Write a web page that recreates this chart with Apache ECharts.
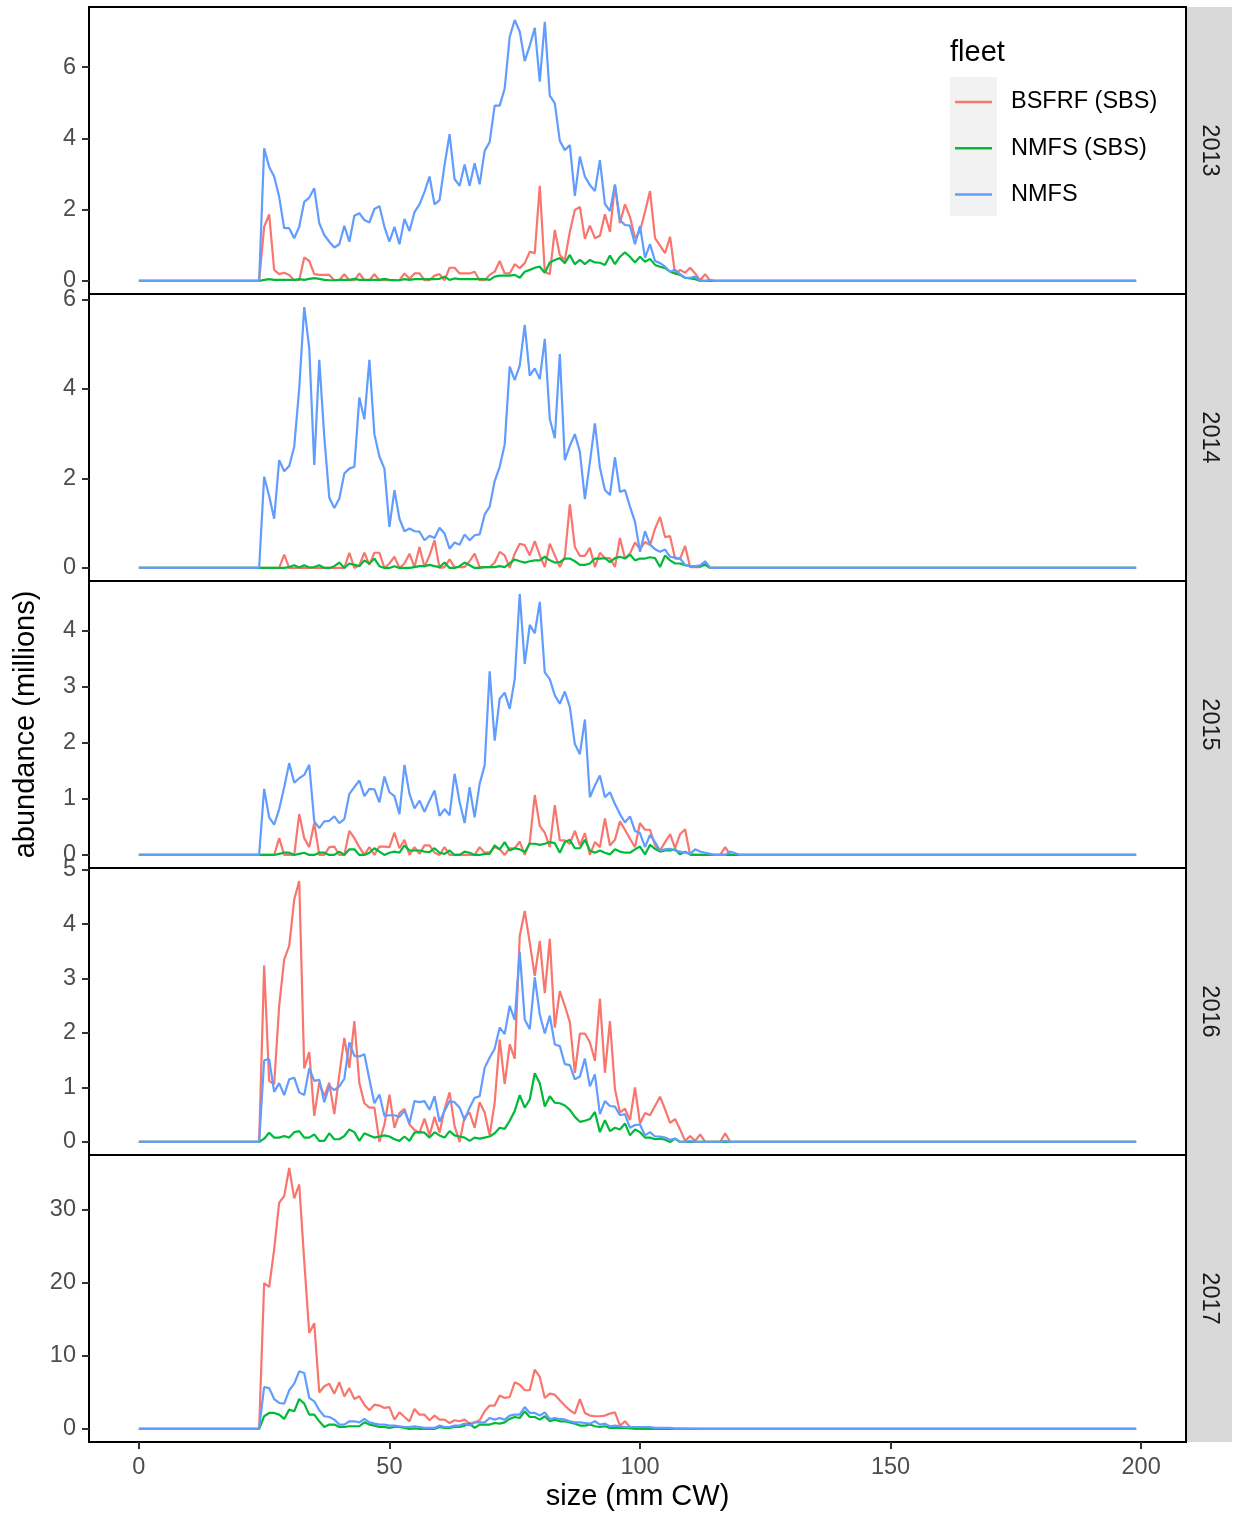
<!DOCTYPE html>
<html>
<head>
<meta charset="utf-8">
<script src="https://cdn.jsdelivr.net/npm/echarts@6/dist/echarts.min.js"></script>
<style>
html,body{margin:0;padding:0;background:#fff;}
#chart{width:1236px;height:1515px;}
</style>
</head>
<body>
<div id="chart"></div>
<script>
// ---------------- DATA ----------------
const YEARS = ['2013', '2014', '2015', '2016', '2017'];
const FLEETS = ['BSFRF (SBS)', 'NMFS (SBS)', 'NMFS'];
const SIZE_COUNT = 200;          // size bins 0..199 mm CW
const START = 24;                // first listed bin in each array below (earlier bins are 0)
const X_TICKS = [0, 50, 100, 150, 200];
const Y_TICKS = {
  '2013': [0, 2, 4, 6],
  '2014': [0, 2, 4, 6],
  '2015': [0, 1, 2, 3, 4],
  '2016': [0, 1, 2, 3, 4, 5],
  '2017': [0, 10, 20, 30]
};

const bsfrf2013 = [0,1.52,1.87,0.31,0.19,0.23,0.17,0.02,0.02,0.66, 0.56,0.19,0.17,0.17,0.17,0.02,0.02,0.19,0.02,0.02, 0.21,0.02,0.02,0.19,0.02,0.02,0.02,0.02,0.02,0.21, 0.06,0.21,0.21,0.02,0.02,0.15,0.19,0.02,0.37,0.37, 0.21,0.21,0.21,0.26,0.02,0.02, 0.17,0.26,0.56,0.21,0.21,0.47,0.36,0.5,0.82,0.78, 2.67,0.26,0.19,1.43,0.73,0.59,1.38,1.99,2.08,1.18, 1.55,1.2,1.27,1.87,1.38,2.69,1.62,2.15,1.8,1.2, 1.4,1.94,2.52,1.2,0.99,0.78,1.24,0.19,0.31,0.23, 0.37,0.21,0.02,0.19,0];
const nmfsSbs2013 = [0,0.03,0.05,0.03,0.03,0.03,0.03,0.03,0.05,0.03, 0.06,0.08,0.06,0.03,0.02,0.02,0.03,0.03,0.03,0.06, 0.03,0.03,0.03,0.03,0.03,0.06,0.03,0.02,0.02,0.05, 0.03,0.05,0.05,0.05,0.05,0.05,0.06,0.12,0.03,0.07, 0.05,0.05,0.05,0.05,0.05,0.05, 0.03,0.12,0.15,0.15,0.15,0.17,0.09,0.26,0.31,0.37, 0.4,0.23,0.52,0.59,0.64,0.5,0.73,0.47,0.59,0.47, 0.59,0.52,0.51,0.45,0.71,0.47,0.68,0.8,0.68,0.52, 0.68,0.54,0.62,0.45,0.4,0.36,0.26,0.21,0.17,0.09, 0.07,0.05,0,0,0];
const nmfs2013 = [0,3.72,3.2,2.93,2.36,1.48,1.48,1.2,1.52,2.22, 2.34,2.6,1.62,1.29,1.1,0.94,1.03,1.55,1.1,1.83, 1.9,1.71,1.64,2.02,2.1,1.52,1.1,1.52,1.03,1.74, 1.4,1.93,2.15,2.5,2.93,2.15,2.27,3.25,4.12,2.86, 2.67,3.27,2.67,3.3,2.71,3.65, 3.9,4.92,4.92,5.4,6.85,7.32,7.0,6.17,6.6,7.1, 5.59,7.27,5.2,4.98,3.93,3.67,3.81,2.39,3.49,2.93, 2.69,2.52,3.39,2.16,1.96,2.71,1.71,1.57,1.55,1.03, 1.54,0.65,1.03,0.56,0.5,0.4,0.26,0.31,0.19,0.09, 0.09,0.12,0,0,0.03];

const bsfrf2014 = [0,0,0,0,0,0.3,0,0,0,0, 0,0,0,0,0,0,0,0,0.34,0, 0.06,0.34,0.07,0.34,0.34,0,0.1,0.25,0,0.1, 0.32,0.02,0.47,0.02,0.28,0.62,0,0.02,0.19,0.02, 0.02,0.02,0.15,0.32,0.02,0.02, 0.02,0.12,0.36,0.28,0,0.32,0.54,0.51,0.28,0.6, 0.28,0.02,0.54,0.28,0.02,0.25,1.42,0.47,0.27,0.27, 0.45,0.02,0.34,0.22,0.22,0.02,0.67,0.21,0.32,0.57, 0.42,0.58,0.51,0.88,1.14,0.69,0.71,0.21,0.21,0.49, 0.02,0.02,0.02,0.12,0];
const nmfsSbs2014 = [0,0,0,0,0,0,0.02,0.06,0.01,0.06, 0.01,0.02,0.06,0,0,0.04,0.12,0,0.1,0.07, 0.04,0.17,0.1,0.21,0.04,0,0,0.04,0,0, 0,0.02,0.04,0.04,0.07,0.04,0.02,0.12,0,0, 0.04,0.12,0.06,0,0,0.02, 0.02,0.02,0.04,0.02,0.1,0.19,0.15,0.12,0.15,0.17, 0.17,0.25,0.17,0.12,0.13,0.21,0.21,0.15,0.07,0.07, 0.1,0.21,0.21,0.22,0.13,0.22,0.25,0.21,0.3,0.17, 0.21,0.21,0.24,0.22,0.02,0.28,0.17,0.1,0.1,0.06, 0.04,0.04,0.04,0.07,0];
const nmfs2014 = [0,2.04,1.61,1.1,2.41,2.16,2.28,2.71,4.01,5.83, 4.91,2.3,4.65,2.93,1.57,1.34,1.55,2.11,2.22,2.26, 3.81,3.32,4.65,2.99,2.49,2.22,0.92,1.74,1.1,0.82, 0.88,0.82,0.81,0.62,0.72,0.67,0.9,0.77,0.43,0.57, 0.52,0.75,0.62,0.73,0.75,1.19, 1.37,1.94,2.26,2.76,4.5,4.2,4.52,5.43,4.3,4.46, 4.22,5.12,3.33,2.9,4.78,2.41,2.73,2.99,2.6,1.54, 2.36,3.23,2.24,1.74,1.63,2.47,1.7,1.74,1.37,1.03, 0.36,0.82,0.52,0.42,0.36,0.41,0.25,0.23,0.21,0.07, 0.04,0.04,0.06,0.15,0];

const bsfrf2015 = [0,0,0,0,0.3,0,0,0,0.73,0.3, 0.14,0.57,0,0,0.14,0.15,0,0,0.43,0.3, 0.14,0,0.14,0,0.15,0.15,0.14,0.4,0.12,0.27, 0,0.14,0.02,0.17,0.17,0.04,0,0.14,0,0, 0,0,0,0,0.14,0.04, 0.05,0.14,0.1,0,0.12,0.12,0.24,0,0.23,1.07, 0.52,0.4,0.14,0.89,0.26,0.26,0.2,0.43,0.17,0.39, 0,0.23,0.14,0.65,0.17,0.27,0.6,0.45,0.29,0.14, 0.57,0.45,0.45,0.17,0.08,0.23,0.37,0.12,0.37,0.46, 0,0,0,0,0,0,0,0.14,0,0];
const nmfsSbs2015 = [0,0,0,0,0.02,0.04,0.04,0,0.02,0.04, 0,0,0.04,0.04,0,0,0.06,0,0.1,0.1, 0,0,0.04,0.12,0.06,0,0.04,0.06,0.04,0.17, 0.08,0.08,0.08,0.06,0.05,0.12,0.04,0.02,0.08,0, 0,0.06,0.04,0,0,0.02, 0.02,0.17,0.1,0.23,0.08,0.12,0.1,0.05,0.2,0.2, 0.18,0.2,0.23,0.21,0.04,0.23,0.27,0.12,0.12,0.27, 0.08,0.04,0.08,0.04,0.01,0.1,0.06,0.04,0.04,0.1, 0.15,0.01,0.18,0.11,0.06,0.08,0.08,0.1,0.01,0.06, 0.01,0,0,0,0,0,0,0,0,0];
const nmfs2015 = [0,1.18,0.67,0.54,0.82,1.21,1.64,1.29,1.37,1.43, 1.61,0.6,0.48,0.6,0.61,0.69,0.57,0.64,1.09,1.21, 1.33,1.05,1.18,1.17,0.94,1.4,1.12,1.05,0.73,1.61, 1.09,0.83,0.97,0.77,0.97,1.15,0.7,0.82,0.71,1.45, 0.95,0.57,1.21,0.67,1.27,1.6, 3.28,2.04,2.79,2.9,2.61,3.14,4.66,3.41,4.11,3.96, 4.52,3.26,3.14,2.85,2.7,2.92,2.64,1.98,1.8,2.42, 1.03,1.24,1.42,1.03,1.12,0.91,0.73,0.58,0.69,0.43, 0.39,0.14,0.36,0.23,0.08,0.1,0.11,0.08,0.06,0.04, 0.02,0.1,0.06,0.04,0.02,0,0,0,0.06,0.03];

const bsfrf2016 = [0,3.24,1.12,1.06,2.5,3.35,3.6,4.45,4.79,1.35, 1.65,0.48,1.09,0.84,1.09,0.51,1.24,1.91,1.36,2.22, 1.08,0.71,0.63,0.63,0,0.32,0.87,0.26,0.53,0.61, 0.32,0.22,0.17,0.43,0.12,0.46,0.17,0.6,0.91,0.29, 0,0.46,0.54,0.26,0.73,0.54, 0.12,0.72,1.88,1.06,1.79,1.53,3.78,4.24,3.66,3.05, 3.69,2.73,3.73,2.1,2.77,2.5,2.2,1.27,1.99,1.99, 1.83,1.49,2.63,1.27,2.22,0.97,0.54,0.61,0.4,1.0, 0.34,0.53,0.49,0.66,0.83,0.6,0.35,0.42,0.23,0.02, 0.11,0.02,0.14,0,0,0,0,0.16,0];
const nmfsSbs2016 = [0,0.06,0.17,0.08,0.08,0.11,0.08,0.18,0.2,0.08, 0.08,0.14,0.02,0.02,0.16,0.05,0.05,0.11,0.23,0.18, 0.02,0.16,0.12,0.08,0.1,0.12,0.1,0.05,0.02,0.1, 0.02,0.17,0.18,0.17,0.08,0.18,0.12,0.08,0.2,0.12, 0.1,0.08,0.02,0.08,0.06,0.08, 0.1,0.16,0.26,0.24,0.39,0.57,0.86,0.63,0.78,1.26, 1.08,0.65,0.84,0.72,0.71,0.67,0.59,0.46,0.37,0.39, 0.42,0.55,0.18,0.4,0.2,0.26,0.23,0.34,0.12,0.23, 0.18,0.08,0.08,0.05,0.06,0.04,0,0.06,0,0, 0,0,0,0,0,0,0,0,0];
const nmfs2016 = [0,1.5,1.52,0.92,1.08,0.86,1.15,1.18,0.91,0.86, 1.35,1.12,1.14,0.73,1.03,0.95,1.02,1.16,1.83,1.58, 1.57,1.61,1.15,0.71,0.87,0.48,0.49,0.49,0.46,0.57, 0.34,0.75,0.73,0.75,0.59,0.84,0.37,0.57,0.75,0.73, 0.63,0.4,0.63,0.81,0.84,1.36, 1.55,1.71,2.1,1.98,2.5,2.24,3.49,2.25,2.07,3.02, 2.34,1.99,2.32,1.79,1.76,1.43,1.41,1.15,1.2,1.53, 1.02,1.24,0.51,0.75,0.66,0.65,0.49,0.51,0.26,0.31, 0.32,0.12,0.18,0.1,0.1,0.08,0.04,0.06,0,0, 0.02,0,0,0,0,0,0,0.02,0];

const bsfrf2017 = [0,20.0,19.45,24.6,31.0,31.9,35.75,31.6,33.5,23.0, 13.15,14.5,5.0,5.85,6.2,4.84,6.4,4.47,5.6,4.1, 4.47,3.33,2.56,3.33,3.2,2.88,3.0,1.28,2.28,1.64, 1.05,2.74,1.96,1.96,1.19,1.83,1.28,1.28,0.82,1.19, 1.05,1.28,0.73,0.91,1.19,2.42, 3.2,3.2,4.57,4.25,4.38,6.4,6.07,5.3,5.3,8.13, 7.12,4.25,4.84,4.7,3.93,3.2,2.56,2.1,4.1,2.19, 1.83,1.74,1.74,1.83,2.1,2.28,0.46,1.05,0.27,0, 0,0,0,0,0,0,0.1,0,0,0];
const nmfsSbs2017 = [0,1.74,2.19,2.19,1.96,1.37,2.65,2.42,4.1,3.47, 1.96,1.96,1.05,0.27,0.6,0.6,0.27,0.27,0.37,0.37, 0.37,0.91,0.6,0.46,0.27,0.27,0.14,0.27,0.27,0.14, 0,0.09,0,0,0,0,0.27,0.14,0.14,0.27, 0.27,0.46,0.73,0.14,0.6,0.6, 0.6,0.82,0.73,0.91,1.37,1.64,1.5,2.42,1.64,1.64, 1.28,1.74,1.05,1.28,1.05,1.05,0.91,0.73,0.46,0.46, 0.6,0.37,0.27,0.37,0.14,0.14,0.14,0.14,0.09,0.05, 0.05,0.05,0.02,0.02,0.02,0,0,0,0,0];
const nmfs2017 = [0,5.75,5.6,4.1,3.56,3.47,5.3,6.2,7.9,7.67, 4.25,3.79,2.56,1.74,1.64,1.28,0.6,0.6,1.05,1.05, 0.91,1.37,0.91,0.73,0.6,0.6,0.46,0.46,0.37,0.27, 0.27,0.37,0.27,0.14,0.14,0.14,0.46,0.27,0.27,0.46, 0.46,0.73,0.46,0.91,0.91,0.91, 1.5,1.28,1.5,1.28,1.83,1.96,1.96,3.0,2.19,2.19, 1.83,2.28,1.37,1.5,1.37,1.28,1.05,0.91,0.91,0.82, 0.73,1.05,0.6,0.73,0.37,0.46,0.37,0.27,0.27,0.27, 0.27,0.27,0.27,0.14,0.14,0.14,0.14,0.05,0.05,0.05, 0.03,0.03,0.02,0.02,0.02,0.01,0.01];

const PANEL_DATA = {
  '2013': [bsfrf2013, nmfsSbs2013, nmfs2013],
  '2014': [bsfrf2014, nmfsSbs2014, nmfs2014],
  '2015': [bsfrf2015, nmfsSbs2015, nmfs2015],
  '2016': [bsfrf2016, nmfsSbs2016, nmfs2016],
  '2017': [bsfrf2017, nmfsSbs2017, nmfs2017]
};

// ---------------- STYLE / LAYOUT ----------------
const COLORS = ['#F8766D', '#00BA38', '#619CFF'];
const FONT = '"Liberation Sans", Arial, Helvetica, sans-serif';
const PLOT_LEFT = 89, PLOT_W = 1097, PANEL_TOP = 7, PANEL_H = 287;
const STRIP_X = 1187, STRIP_W = 45;

function fullSeries(vals) {
  const out = [];
  for (let s = 0; s < SIZE_COUNT; s++) {
    const i = s - START;
    out.push([s, (i >= 0 && i < vals.length) ? vals[i] : 0]);
  }
  return out;
}

const grids = [], xAxes = [], yAxes = [], series = [], graphics = [];
const xMax = SIZE_COUNT - 1;
const xMin = -0.05 * xMax, xLim = xMax * 1.05;

YEARS.forEach((yr, p) => {
  const top = PANEL_TOP + p * PANEL_H;
  grids.push({
    left: PLOT_LEFT, top: top, width: PLOT_W, height: PANEL_H,
    show: true, borderColor: '#000', borderWidth: 2, backgroundColor: 'transparent'
  });
  const isBottom = p === YEARS.length - 1;
  xAxes.push({
    type: 'value', gridIndex: p, min: xMin, max: xLim, position: 'bottom',
    axisLine: { show: false, onZero: false },
    splitLine: { show: false },
    axisTick: { show: isBottom, customValues: X_TICKS, length: 7, lineStyle: { color: '#333', width: 2 } },
    axisLabel: { show: isBottom, customValues: X_TICKS, margin: 14, fontSize: 23.5, color: '#4D4D4D', fontFamily: FONT }
  });
  const sets = PANEL_DATA[yr];
  let m = 0;
  sets.forEach(a => a.forEach(v => { if (v > m) m = v; }));
  yAxes.push({
    type: 'value', gridIndex: p, min: -0.05 * m, max: 1.05 * m, position: 'left',
    axisLine: { show: false, onZero: false },
    splitLine: { show: false },
    axisTick: { show: true, customValues: Y_TICKS[yr], length: 7, lineStyle: { color: '#333', width: 2 } },
    axisLabel: { show: true, customValues: Y_TICKS[yr], margin: 13, padding: [3, 0, 0, 0], fontSize: 23.5, color: '#4D4D4D', fontFamily: FONT }
  });
  sets.forEach((vals, k) => {
    series.push({
      name: FLEETS[k], type: 'line', xAxisIndex: p, yAxisIndex: p,
      data: fullSeries(vals), symbol: 'none', showSymbol: false,
      color: COLORS[k], lineStyle: { color: COLORS[k], width: 2.2 },
      silent: true, z: 2 + k
    });
  });
  // strip
  graphics.push({
    type: 'rect', z: 1, shape: { x: STRIP_X, y: top, width: STRIP_W, height: PANEL_H },
    style: { fill: '#D9D9D9' }
  });
  graphics.push({
    type: 'text', z: 2, x: STRIP_X + STRIP_W / 2, y: top + PANEL_H / 2, rotation: -Math.PI / 2,
    style: { text: yr, fontSize: 23.5, fontFamily: FONT, fill: '#1A1A1A', align: 'center', verticalAlign: 'middle' }
  });
});

// axis titles
graphics.push({
  type: 'text', x: PLOT_LEFT + PLOT_W / 2, y: 1497,
  style: { text: 'size (mm CW)', fontSize: 29, fontFamily: FONT, fill: '#000', align: 'center', verticalAlign: 'middle' }
});
graphics.push({
  type: 'text', x: 26, y: PANEL_TOP + 2.5 * PANEL_H, rotation: Math.PI / 2,
  style: { text: 'abundance (millions)', fontSize: 29, fontFamily: FONT, fill: '#000', align: 'center', verticalAlign: 'middle' }
});
// legend title and key background
graphics.push({
  type: 'text', x: 950, y: 53,
  style: { text: 'fleet', fontSize: 29, fontFamily: FONT, fill: '#000', align: 'left', verticalAlign: 'middle' }
});
graphics.push({
  type: 'rect', z: 1, shape: { x: 950, y: 77, width: 47, height: 139 },
  style: { fill: '#F2F2F2' }
});

const option = {
  animation: false,
  backgroundColor: '#fff',
  grid: grids,
  xAxis: xAxes,
  yAxis: yAxes,
  series: series,
  graphic: graphics,
  legend: {
    data: FLEETS.map(n => ({ name: n, icon: 'rect' })),
    orient: 'vertical', left: 955, top: 90, padding: 0,
    itemWidth: 37, itemHeight: 2.5, itemGap: 22.3,
    selectedMode: false, z: 10,
    textStyle: { fontSize: 23.5, fontFamily: FONT, color: '#000', lineHeight: 24, padding: [0, 0, 0, 14] }
  }
};

const chart = echarts.init(document.getElementById('chart'), null, { renderer: 'canvas' });
chart.setOption(option);
</script>
</body>
</html>
